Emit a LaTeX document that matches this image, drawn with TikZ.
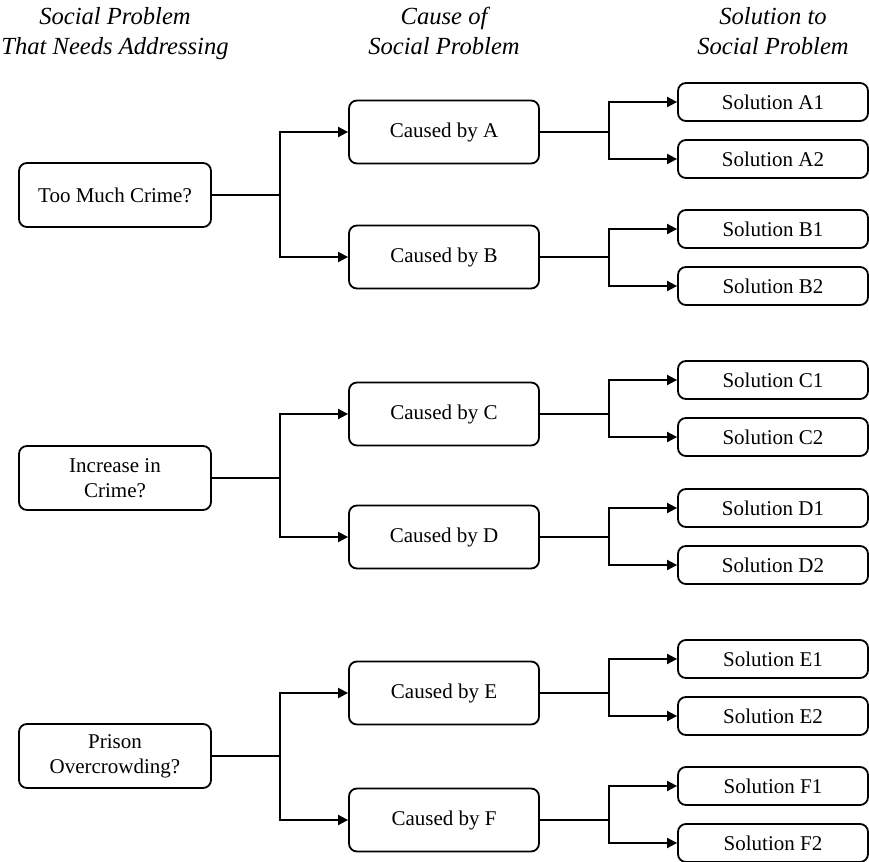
\documentclass[tikz,border=0pt]{standalone}
\usepackage{fontspec}
\setmainfont{Liberation Serif}
\usetikzlibrary{arrows.meta}

\tikzset{
  probbox/.style={draw, rounded corners=4pt, line width=0.9pt, minimum width=96pt, minimum height=32pt, align=center, font=\fontsize{10.5}{12.5}\selectfont},
  causebox/.style={probbox, minimum width=95pt, minimum height=31.5pt},
  solbox/.style={probbox, minimum width=95pt, minimum height=19pt},
  header/.style={anchor=north, align=center, font=\fontsize{12.3}{15}\selectfont\itshape},
  link/.style={line width=0.9pt},
  linkarr/.style={link, -{Triangle[length=5pt,width=5pt]}}
}

\begin{document}
\begin{tikzpicture}[x=0.5pt, y=-0.5pt]
  \useasboundingbox (0,0) rectangle (869,862);

  % column headings
  \node[header] (hprob) at (115,0) {Social Problem\\That Needs Addressing};
  \node[header] (hcause) at (444,0) {Cause of\\Social Problem};
  \node[header] (hsol) at (773,0) {Solution to\\Social Problem};

  % problems
  \node[probbox] (crime) at (115,195) {Too Much Crime?};
  \node[probbox] (incr) at (115,478) {Increase in\\Crime?};
  \node[probbox] (prison) at (115,756) {Prison\\Overcrowding?};

  % causes
  \node[causebox] (ca) at (444,132) {Caused by A};
  \node[causebox] (cb) at (444,257) {Caused by B};
  \node[causebox] (cc) at (444,414) {Caused by C};
  \node[causebox] (cd) at (444,537) {Caused by D};
  \node[causebox] (ce) at (444,693) {Caused by E};
  \node[causebox] (cf) at (444,820) {Caused by F};

  % solutions
  \node[solbox] (sa1) at (773,102) {Solution A1};
  \node[solbox] (sa2) at (773,159) {Solution A2};
  \node[solbox] (sb1) at (773,229) {Solution B1};
  \node[solbox] (sb2) at (773,286) {Solution B2};
  \node[solbox] (sc1) at (773,380) {Solution C1};
  \node[solbox] (sc2) at (773,437) {Solution C2};
  \node[solbox] (sd1) at (773,508) {Solution D1};
  \node[solbox] (sd2) at (773,565) {Solution D2};
  \node[solbox] (se1) at (773,659) {Solution E1};
  \node[solbox] (se2) at (773,716) {Solution E2};
  \node[solbox] (sf1) at (773,786) {Solution F1};
  \node[solbox] (sf2) at (773,843) {Solution F2};

  % problem -> cause
  \draw[linkarr] (crime.east) -- ++(68,0) |- (ca.west);
  \draw[linkarr] (crime.east) -- ++(68,0) |- (cb.west);
  \draw[linkarr] (incr.east) -- ++(68,0) |- (cc.west);
  \draw[linkarr] (incr.east) -- ++(68,0) |- (cd.west);
  \draw[linkarr] (prison.east) -- ++(68,0) |- (ce.west);
  \draw[linkarr] (prison.east) -- ++(68,0) |- (cf.west);

  % cause -> solution
  \draw[linkarr] (ca.east) -- ++(69,0) |- (sa1.west);
  \draw[linkarr] (ca.east) -- ++(69,0) |- (sa2.west);
  \draw[linkarr] (cb.east) -- ++(69,0) |- (sb1.west);
  \draw[linkarr] (cb.east) -- ++(69,0) |- (sb2.west);
  \draw[linkarr] (cc.east) -- ++(69,0) |- (sc1.west);
  \draw[linkarr] (cc.east) -- ++(69,0) |- (sc2.west);
  \draw[linkarr] (cd.east) -- ++(69,0) |- (sd1.west);
  \draw[linkarr] (cd.east) -- ++(69,0) |- (sd2.west);
  \draw[linkarr] (ce.east) -- ++(69,0) |- (se1.west);
  \draw[linkarr] (ce.east) -- ++(69,0) |- (se2.west);
  \draw[linkarr] (cf.east) -- ++(69,0) |- (sf1.west);
  \draw[linkarr] (cf.east) -- ++(69,0) |- (sf2.west);
\end{tikzpicture}
\end{document}
